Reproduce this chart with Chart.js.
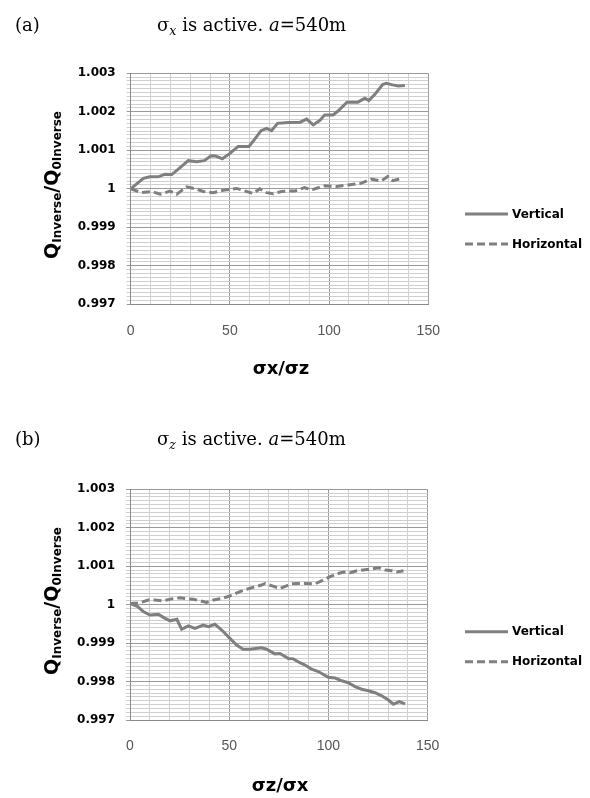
<!DOCTYPE html>
<html>
<head>
<meta charset="utf-8">
<script src="https://cdn.jsdelivr.net/npm/chart.js@4.4.1/dist/chart.umd.min.js"></script>
<style>
html,body{margin:0;padding:0;background:#fff;}
body{width:590px;height:798px;position:relative;overflow:hidden;}
canvas{position:absolute;left:0;}
.t{position:absolute;font-family:"DejaVu Serif",serif;font-size:18px;line-height:20px;color:#000;white-space:nowrap;z-index:2;}
.t sub{font-size:0.7em;line-height:0;vertical-align:baseline;position:relative;top:4px;font-style:italic;}
</style>
</head>
<body>
<div class="t" style="left:15px;top:15px;">(a)</div>
<div class="t" style="left:157px;top:15px;">σ<sub>x</sub> is active. <i>a</i>=540m</div>
<div class="t" style="left:15px;top:429px;">(b)</div>
<div class="t" style="left:157px;top:429px;">σ<sub>z</sub> is active. <i>a</i>=540m</div>
<canvas id="c1" width="590" height="399" style="top:0;"></canvas>
<canvas id="c2" width="590" height="399" style="top:399px;"></canvas>
<script>
// ---- data (a): sigma_x active ----
const aVertX = [0,3,6.4,9.7,13.9,17.3,20.7,24.9,29,33.2,37.1,40.5,42.8,46.2,50,54.2,59.6,61.8,65.7,68.5,71,74,79.4,85.4,88.7,92,95.4,97.8,102,104.5,109,114.5,118,120,123,127,128.8,132,135,138.2];
const aVertY = [1.0,1.00013,1.00027,1.00031,1.00031,1.00038,1.00037,1.00055,1.00073,1.0007,1.00073,1.00086,1.00085,1.00078,1.00092,1.0011,1.0011,1.00124,1.00151,1.00157,1.00151,1.0017,1.00172,1.00173,1.00181,1.00166,1.00178,1.00192,1.00192,1.00202,1.00225,1.00225,1.00235,1.00229,1.00245,1.00271,1.00274,1.0027,1.00267,1.00268];
const aHorX = [0,5.5,10.6,14.8,19.8,23.2,28.2,32.4,36.6,41.6,46.7,53.4,58.4,61.8,65,68.5,71.9,76,79.4,82.7,87.6,91,97.8,103.8,109.6,116,121.2,126.2,129.6,132.2,135.6];
const aHorY = [1.0,0.9999,0.99993,0.99986,0.99994,0.99986,1.00005,1.0,0.99993,0.9999,0.99996,1.00001,0.99993,0.99988,1.0,0.9999,0.99987,0.99993,0.99994,0.99994,1.00003,0.99997,1.00008,1.00006,1.0001,1.00014,1.00025,1.0002,1.00032,1.00021,1.00026];
// ---- data (b): sigma_z active ----
const bVertX = [0,3.9,6.7,10,14.3,16.8,20.2,23.6,26,29.4,32.7,36.9,39.5,42.8,46.2,49.5,53.7,57,60.4,66.3,68.8,73,75.6,79.8,82.3,85.6,88.2,91.5,94.9,99.9,103.4,106.7,110,113.4,116.7,120.1,123.5,126.8,130.2,132.7,135.6,138.6];
const bVertY = [1.00003,0.99995,0.99982,0.99973,0.99975,0.99967,0.99958,0.99962,0.99936,0.99945,0.99938,0.99947,0.99943,0.99949,0.99934,0.99917,0.99895,0.99884,0.99884,0.99888,0.99884,0.99872,0.99873,0.9986,0.99859,0.99849,0.99843,0.99832,0.99826,0.99811,0.99809,0.99802,0.99797,0.99787,0.9978,0.99776,0.99771,0.99763,0.99752,0.99741,0.99748,0.99742];
const bHorX = [0,5,9.2,12.6,16.8,21,25.2,27.7,31.9,35.3,38.6,42,46.2,51.2,55.4,58.8,62,66.3,68,72,75.5,78,81.4,84.8,88.2,93.2,97.4,100.8,105,107.6,110.9,114.3,117.6,121.8,125.2,128.6,132,134.5,137.8];
const bHorY = [1.00003,1.00005,1.00012,1.00012,1.0001,1.00015,1.00018,1.00016,1.00014,1.0001,1.00006,1.00012,1.00016,1.00024,1.00034,1.0004,1.00045,1.00051,1.00055,1.00048,1.00042,1.00047,1.00054,1.00055,1.00055,1.00054,1.00064,1.00073,1.00081,1.00085,1.00083,1.00088,1.0009,1.00093,1.00096,1.0009,1.00088,1.00085,1.00088];

const seriesNames = ['Vertical','Horizontal'];
const xTickLabels = ['0','50','100','150'];
const yTickLabels = ['0.997','0.998','0.999','1','1.001','1.002','1.003'];

const LINE = '#7f7f7f';
const DASH = [8,4];

function pts(xs, ys){ return xs.map((x,i)=>({x:x, y:ys[i]})); }

const annot = {
  id:'annot',
  afterDraw(chart, args, o){
    const ctx = chart.ctx;
    ctx.save();
    ctx.fillStyle = '#000';
    // y-axis title (rotated, with subscripts)
    const parts = [
      {t:'Q', s:19, sub:false},
      {t:'Inverse', s:12, sub:true},
      {t:'/', s:19, sub:false},
      {t:'Q', s:19, sub:false},
      {t:'0Inverse', s:12, sub:true}
    ];
    let total = 0;
    parts.forEach(p=>{ ctx.font = 'bold '+p.s+'px "DejaVu Sans"'; p.w = ctx.measureText(p.t).width; total += p.w; });
    ctx.translate(o.yTitleX, o.yTitleY);
    ctx.rotate(-Math.PI/2);
    ctx.textBaseline = 'alphabetic';
    ctx.textAlign = 'left';
    let cx = -total/2;
    parts.forEach(p=>{ ctx.font = 'bold '+p.s+'px "DejaVu Sans"'; ctx.fillText(p.t, cx, p.sub?3:0); cx += p.w; });
    ctx.setTransform(1,0,0,1,0,0);
    // x-axis title
    ctx.font = 'bold 18px "DejaVu Sans"';
    ctx.textAlign = 'center';
    ctx.textBaseline = 'middle';
    ctx.fillText(o.xTitle, o.xTitleX, o.xTitleY);
    // legend
    ctx.textAlign = 'left';
    ctx.font = 'bold 12px "DejaVu Sans"';
    ctx.strokeStyle = LINE;
    ctx.lineWidth = 3;
    seriesNames.forEach((n,i)=>{
      const y = o.legendY[i];
      ctx.setLineDash(i===1?DASH:[]);
      ctx.beginPath(); ctx.moveTo(465,y); ctx.lineTo(508,y); ctx.stroke();
      ctx.fillText(n, 512, y+0.5);
    });
    ctx.restore();
  }
};

function makeChart(id, vx, vy, hx, hy, cfg){
  return new Chart(document.getElementById(id), {
    type:'line',
    data:{datasets:[
      {label:seriesNames[0], data:pts(vx,vy), borderColor:LINE, borderWidth:3, pointRadius:0, tension:0, fill:false},
      {label:seriesNames[1], data:pts(hx,hy), borderColor:LINE, borderWidth:3, borderDash:DASH, pointRadius:0, tension:0, fill:false}
    ]},
    plugins:[annot],
    options:{
      responsive:false, animation:false, devicePixelRatio:1,
      layout:{padding:{left:0, top:cfg.top, right:cfg.right, bottom:0}},
      plugins:{legend:{display:false}, tooltip:{enabled:false}, title:{display:false},
        annot:cfg.annot},
      scales:{
        x:{type:'linear', min:0, max:150,
          afterFit(s){ s.height = cfg.xH; },
          ticks:{stepSize:10, autoSkip:false, maxRotation:0, maxTicksLimit:50, padding:18,
            color:'#555', font:{family:'"Liberation Sans"', size:14},
            callback(v){ return (Math.round(v)%50===0) ? xTickLabels[Math.round(v)/50] : ''; }},
          grid:{drawTicks:false, color(c){ const v=Math.round(c.tick.value); return (v%50===0)?'#9a9a9a':'#cfcfcf'; }, lineWidth:1},
          border:{color:'#8a8a8a', width:1}
        },
        y:{type:'linear', min:0.997, max:1.003,
          afterFit(s){ s.width = cfg.yW; },
          ticks:{stepSize:0.0001, autoSkip:false, maxTicksLimit:100, padding:11,
            color:'#000', font:{family:'"DejaVu Sans"', size:12, weight:'bold'},
            callback(v){ const k=Math.round((v-0.997)*10000); return (k%10===0)? yTickLabels[k/10] : ''; }},
          grid:{tickLength:4, color(c){ const k=Math.round((c.tick.value-0.997)*10000); return (k%10===0)?'#9a9a9a':'#cfcfcf'; }, lineWidth:1},
          border:{color:'#8a8a8a', width:1}
        }
      }
    }
  });
}

makeChart('c1', aVertX, aVertY, aHorX, aHorY, {
  top:73.3, right:161.7, xH:94.7, yW:130.7,
  annot:{xTitle:'σx/σz', xTitleX:281, xTitleY:369, yTitleX:58, yTitleY:185, legendY:[214,244]}
});
makeChart('c2', bVertX, bVertY, bHorX, bHorY, {
  top:90.3, right:162.3, xH:78, yW:130,
  annot:{xTitle:'σz/σx', xTitleX:280, xTitleY:387.7, yTitleX:58, yTitleY:202, legendY:[232.7,262.7]}
});
</script>
</body>
</html>
